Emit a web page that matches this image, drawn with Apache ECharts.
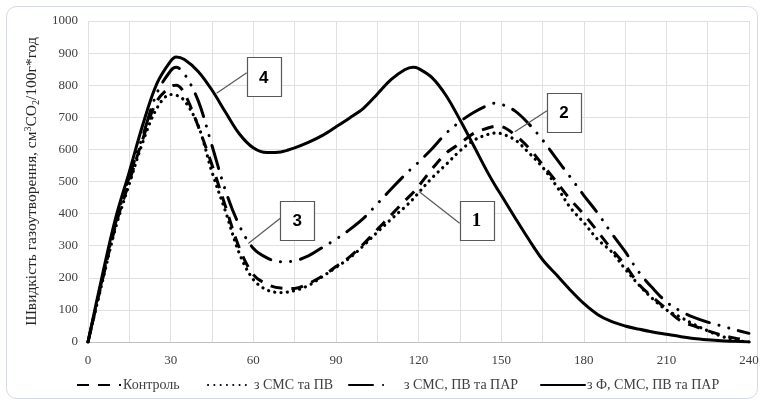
<!DOCTYPE html>
<html>
<head>
<meta charset="utf-8">
<script src="https://cdn.jsdelivr.net/npm/echarts@6/dist/echarts.min.js"></script>
<style>
html,body{margin:0;padding:0;background:#fff;}
#c{width:764px;height:407px;}
</style>
</head>
<body>
<div id="c"></div>
<script>
// ---- data ----
const timeValues = [0,5,10,15,20,25,30,32,35,40,45,50,55,60,65,70,75,80,85,90,95,100,105,110,115,118,120,125,130,135,140,145,148,150,155,160,165,170,175,180,185,190,195,200,205,210,215,220,225,230,235,240];
const seriesNames = ['Контроль', 'з СМС та ПВ', 'з СМС, ПВ та ПАР', 'з Ф, СМС, ПВ та ПАР'];
const kontrol   = [0,185,362,500,635,750,796,800,775,672,552,420,292,210,180,168,167,182,205,235,265,305,350,395,440,465,485,540,588,618,650,666,672,671,645,605,553,500,445,398,345,290,240,180,140,103,67,50,35,22,12,4];
const smsPv     = [0,180,355,492,625,728,771,769,752,675,530,405,275,195,162,154,160,176,203,232,262,300,342,382,420,445,465,512,553,595,628,646,651,649,630,590,545,487,420,372,320,282,228,178,135,100,78,55,35,18,6,0];
const smsPvPar  = [0,190,370,515,645,775,845,856,835,752,612,470,362,292,262,250,253,268,294,320,350,385,430,476,520,545,560,603,650,686,715,737,744,741,720,680,630,572,515,457,402,340,282,218,168,125,97,77,62,50,38,27];
const fSmsPvPar = [0,200,385,530,680,805,875,888,880,843,785,715,648,605,590,592,605,622,643,670,698,728,772,817,848,856,852,823,768,693,612,530,485,458,388,320,257,210,163,120,86,64,50,40,31,24,17,11,7,4,2,0];
const xTicks = [0,30,60,90,120,150,180,210,240];
const yTicks = [0,100,200,300,400,500,600,700,800,900,1000];
// callouts: label, box centre (data), pointer target (data)
const calloutLabels = ['4','3','1','2'];
const calloutBoxes = [[63.8,826],[76,379],[141.1,379],[172.8,714]];
const calloutTargets = [[46.7,775],[58.2,307],[120.3,468],[155,655]];

function pairs(vals){ return timeValues.map((t,i)=>[t, vals[i]]); }

const chart = echarts.init(document.getElementById('c'), null, {renderer:'canvas'});
const serif = 'Liberation Serif, Times New Roman, serif';

const styles = [
  {type:[12,9], cap:'butt', width:3},
  {type:[0.1,6.2], cap:'round', width:3.2},
  {type:[24,10,0.1,10,0.1,10], cap:'round', width:3},
  {type:'solid', cap:'round', width:3}
];
const allVals = [kontrol, smsPv, smsPvPar, fSmsPvPar];
const series = seriesNames.map((n,i)=>({
  name:n, type:'line', data:pairs(allVals[i]), smooth:0.35, showSymbol:false, symbol:'none',
  lineStyle:{color:'#000', width:styles[i].width, type:styles[i].type, cap:styles[i].cap, join:'round'},
  itemStyle:{color:'#000'}, z: 10 - i, animation:false
}));

const legendLefts = [71, 202, 343, 535];
const legendPad = [-3, -3, 6, -3];
const legends = seriesNames.map((n,i)=>({
  data:[n], left:legendLefts[i], top:373, itemWidth:44, itemHeight:14, itemGap:0,
  itemStyle:{color:'rgba(0,0,0,0)', opacity:0, borderWidth:0},
  textStyle:{fontFamily:serif, fontSize:14, color:'#404040', padding:[0,0,0,legendPad[i]]},
  selectedMode:false
}));

chart.setOption({
  animation:false,
  backgroundColor:'#fff',
  grid:{left:88, right:15, top:21, bottom:65},
  legend: legends,
  xAxis:{
    type:'value', min:0, max:240, interval:15,
    axisLine:{show:true, lineStyle:{color:'#bfbfbf', width:1}},
    axisTick:{show:false},
    splitLine:{show:true, lineStyle:{color:'#e0e0e0', width:1}},
    axisLabel:{fontFamily:serif, fontSize:13, color:'#404040', margin:12,
      formatter:v => xTicks.indexOf(v) >= 0 ? String(v) : ''}
  },
  yAxis:{
    type:'value', min:0, max:1000, interval:100,
    axisLine:{show:false}, axisTick:{show:false},
    splitLine:{show:true, lineStyle:{color:'#e0e0e0', width:1}},
    axisLabel:{fontFamily:serif, fontSize:13, color:'#404040', margin:10,
      formatter:v => yTicks.indexOf(v) >= 0 ? String(v) : ''},
    name:'Швидкість газоутворення, см{sup|3}CO{sub|2}/100г*год',
    nameLocation:'middle', nameGap:40, nameRotate:90,
    nameTextStyle:{fontFamily:serif, fontSize:15.5, color:'#262626', lineHeight:18,
      rich:{
        sup:{fontFamily:serif, fontSize:10, verticalAlign:'top', lineHeight:18, color:'#262626'},
        sub:{fontFamily:serif, fontSize:10, verticalAlign:'bottom', lineHeight:14, color:'#262626'}
      }}
  },
  series: series
});

function addGraphics(){
  const g = [];
  g.push({type:'rect', shape:{x:6.5, y:6.5, width:751, height:392, r:10},
    style:{fill:null, stroke:'#d6dbe3', lineWidth:1}, z:0, silent:true});
  const bw = 34, bh = 39;
  calloutLabels.forEach((lab,i)=>{
    const c = chart.convertToPixel({xAxisIndex:0, yAxisIndex:0}, calloutBoxes[i]);
    const t = chart.convertToPixel({xAxisIndex:0, yAxisIndex:0}, calloutTargets[i]);
    const sx = c[0] - bw/2, sy = c[1] + (i===0 ? -4 : (i===2 ? 3 : -2));
    g.push({type:'line', shape:{x1:sx, y1:sy, x2:t[0], y2:t[1]},
      style:{stroke:'#595959', lineWidth:1.2}, z:50, silent:true});
    g.push({type:'rect', shape:{x:Math.round(c[0]-bw/2)+0.5, y:Math.round(c[1]-bh/2)+0.5, width:bw, height:bh},
      style:{fill:'#fff', stroke:'#595959', lineWidth:1.2}, z:51, silent:true});
    g.push({type:'text', x:c[0], y:c[1]+1, style:{text:lab, fontFamily: lab==='1' ? serif : 'Liberation Sans, Arial, sans-serif',
      fontWeight:'bold', fontSize:lab==='1'?19:17, fill:'#000', align:'center', verticalAlign:'middle'}, z:52, silent:true});
  });
  chart.setOption({graphic:g});
}
addGraphics();
</script>
</body>
</html>
